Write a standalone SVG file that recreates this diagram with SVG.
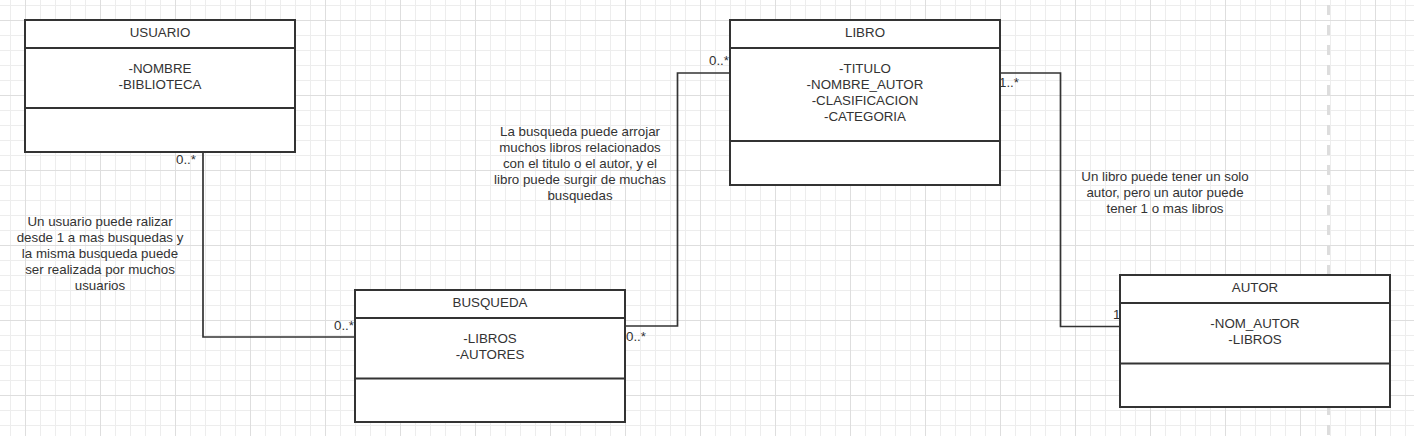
<svg xmlns="http://www.w3.org/2000/svg" width="1414" height="436" viewBox="0 0 1414 436">
  <defs>
    <pattern id="minor" patternUnits="userSpaceOnUse" x="10" y="5" width="15" height="15">
      <path d="M0 0.5 H15 M0.5 0 V15" stroke="#ededed" stroke-width="1" fill="none"/>
    </pattern>
    <pattern id="major" patternUnits="userSpaceOnUse" x="25" y="20" width="75" height="75">
      <path d="M0 0.5 H75 M0.5 0 V75" stroke="#dedede" stroke-width="1" fill="none"/>
    </pattern>
  </defs>
  <style>
    text { font-family: "Liberation Sans", Arial, sans-serif; font-size: 13.33px; fill: #333333; }
    .c { text-anchor: middle; }
    .n { font-size: 13.5px; }
    .box rect { fill: #ffffff; stroke: #333333; stroke-width: 2; }
    .box line { stroke: #333333; stroke-width: 2; }
    .conn path { fill: none; stroke: #333333; stroke-width: 1.7; }
  </style>
  <rect x="0" y="0" width="1414" height="436" fill="#ffffff"/>
  <rect x="0" y="0" width="1414" height="436" fill="url(#minor)"/>
  <rect x="0" y="0" width="1414" height="436" fill="url(#major)"/>
  <line x1="1328.5" y1="5" x2="1328.5" y2="436" stroke="#dddddd" stroke-width="3" stroke-dasharray="10 10"/>

  <g id="notes" class="n">
    <text class="c" x="100" y="226">Un usuario puede ralizar</text>
    <text class="c" x="100" y="242">desde 1 a mas busquedas y</text>
    <text class="c" x="100" y="258">la misma busqueda puede</text>
    <text class="c" x="100" y="274">ser realizada por muchos</text>
    <text class="c" x="100" y="290">usuarios</text>
    <text class="c" x="580" y="135.5">La busqueda puede arrojar</text>
    <text class="c" x="580" y="151.5">muchos libros relacionados</text>
    <text class="c" x="580" y="167.5">con el titulo o el autor, y el</text>
    <text class="c" x="580" y="183.5">libro puede surgir de muchas</text>
    <text class="c" x="580" y="199.5">busquedas</text>
    <text class="c" x="1165" y="181">Un libro puede tener un solo</text>
    <text class="c" x="1165" y="197">autor, pero un autor puede</text>
    <text class="c" x="1165" y="213">tener 1 o mas libros</text>
  </g>

  <g id="connectors" class="conn">
    <path d="M203 152 V337 H355"/>
    <path d="M625 326 H677.5 V73 H730"/>
    <path d="M1000 73 H1060.5 V326.5 H1120"/>
  </g>

  <g id="usuario" class="box">
    <rect x="25" y="20" width="270" height="132"/>
    <line x1="25" y1="48" x2="295" y2="48"/>
    <line x1="25" y1="108" x2="295" y2="108"/>
    <text class="c" x="160" y="36.5">USUARIO</text>
    <text class="c" x="160" y="72.5">-NOMBRE</text>
    <text class="c" x="160" y="88.5">-BIBLIOTECA</text>
  </g>

  <g id="libro" class="box">
    <rect x="730" y="20" width="270" height="165"/>
    <line x1="730" y1="48" x2="1000" y2="48"/>
    <line x1="730" y1="141" x2="1000" y2="141"/>
    <text class="c" x="865" y="36.5">LIBRO</text>
    <text class="c" x="865" y="72.5">-TITULO</text>
    <text class="c" x="865" y="88.5">-NOMBRE_AUTOR</text>
    <text class="c" x="865" y="104.5">-CLASIFICACION</text>
    <text class="c" x="865" y="121">-CATEGORIA</text>
  </g>

  <g id="busqueda" class="box">
    <rect x="355" y="290" width="270" height="132"/>
    <line x1="355" y1="318" x2="625" y2="318"/>
    <line x1="355" y1="378.5" x2="625" y2="378.5"/>
    <text class="c" x="490" y="307">BUSQUEDA</text>
    <text class="c" x="490" y="343">-LIBROS</text>
    <text class="c" x="490" y="358.5">-AUTORES</text>
  </g>

  <g id="autor" class="box">
    <rect x="1120" y="275" width="270" height="132"/>
    <line x1="1120" y1="303" x2="1390" y2="303"/>
    <line x1="1120" y1="363.5" x2="1390" y2="363.5"/>
    <text class="c" x="1255" y="292">AUTOR</text>
    <text class="c" x="1255" y="328">-NOM_AUTOR</text>
    <text class="c" x="1255" y="344">-LIBROS</text>
  </g>

  <g id="multiplicities">
    <text x="176" y="164">0..*</text>
    <text x="334" y="329.5">0..*</text>
    <text x="626" y="341">0..*</text>
    <text x="709" y="65">0..*</text>
    <text x="999" y="86.5">1..*</text>
    <text x="1113" y="318.5">1</text>
  </g>
</svg>
